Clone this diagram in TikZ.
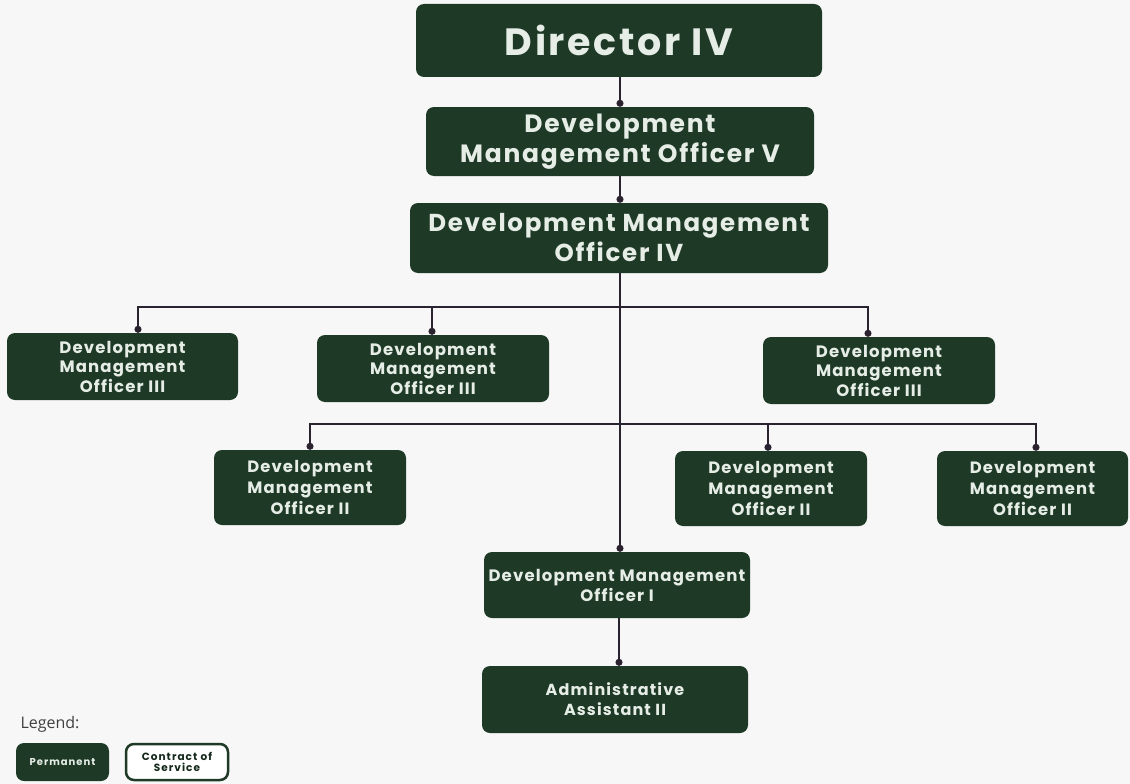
\documentclass[tikz,border=0pt]{standalone}
\usepackage{fontspec}
\setmainfont{Poppins}
\newfontfamily\legendfont{Open Sans}
\usetikzlibrary{arrows.meta}
\definecolor{dkgreen}{HTML}{1E3A26}
\definecolor{txt}{HTML}{E6EDE6}
\definecolor{conn}{HTML}{2B2230}
\definecolor{bg}{HTML}{F7F7F7}
\newcommand{\fsz}[2]{\bfseries\fontsize{#1}{#2}\selectfont\addfontfeature{LetterSpace=7}}
\newcommand{\fszw}[2]{\bfseries\fontsize{#1}{#2}\selectfont\addfontfeature{LetterSpace=10}}
\tikzset{
  box/.style={fill=dkgreen, rounded corners=8pt, text=txt, align=center, inner sep=0pt, anchor=center},
  link/.style={draw=conn, line width=1.3pt},
  dotlink/.style={link, -{Circle[length=7pt,width=7pt]}},
}
\begin{document}
\begin{tikzpicture}[x=1pt,y=-1pt]
\fill[bg] (0,0) rectangle (1130,784);
\useasboundingbox (0,0) rectangle (1130,784);
% top chain
\node[box, minimum width=406pt, minimum height=73pt, font=\fsz{38}{42}] (d4) at (619,40.5) {Director IV};
\node[box, minimum width=388pt, minimum height=69pt, font=\fsz{25}{29.5}] (d5) at (620,141.5) {Development\\Management Officer V};
\node[box, minimum width=418pt, minimum height=70pt, font=\fsz{24.5}{30}] (dm4) at (619,238) {Development Management\\Officer IV};
% level III
\node[box, minimum width=231pt, minimum height=67pt, font=\fsz{16.5}{19.5}] (c31) at (122.5,366.5) {Development\\Management\\Officer III};
\node[box, minimum width=232pt, minimum height=67pt, font=\fsz{16.5}{19.5}] (c32) at (433,368.5) {Development\\Management\\Officer III};
\node[box, minimum width=232pt, minimum height=67pt, font=\fsz{16.5}{19.5}] (c33) at (879,370.5) {Development\\Management\\Officer III};
% level II
\node[box, minimum width=192pt, minimum height=75pt, font=\fsz{16.4}{21}] (c21) at (310,487.5) {Development\\Management\\Officer II};
\node[box, minimum width=192pt, minimum height=75pt, font=\fsz{16.4}{21}] (c22) at (771,488.5) {Development\\Management\\Officer II};
\node[box, minimum width=191pt, minimum height=75pt, font=\fsz{16.4}{21}] (c23) at (1032.5,488.5) {Development\\Management\\Officer II};
% level I
\node[box, minimum width=266pt, minimum height=66pt, font=\fsz{16.5}{20}] (c1) at (617,585) {Development Management\\Officer I};
\node[box, minimum width=266pt, minimum height=67pt, font=\fsz{16}{20}] (aa) at (615,699.5) {Administrative\\Assistant II};
% connectors
\draw[dotlink] (d4.south -| 620,0) -- (d5.north -| 620,0);
\draw[dotlink] (d5.south -| 620,0) -- (dm4.north -| 620,0);
\coordinate (h3) at (620,307);
\coordinate (h2) at (620,424);
\draw[dotlink] (dm4.south -| 620,0) -- (c1.north -| 620,0);
\draw[dotlink] (h3) -| ([xshift=15.5pt]c31.north);
\draw[dotlink] (h3) -| ([xshift=-1pt]c32.north);
\draw[dotlink] (h3) -| ([xshift=-11pt]c33.north);
\draw[dotlink] (h2) -| (c21.north);
\draw[dotlink] (h2) -| ([xshift=-3pt]c22.north);
\draw[dotlink] (h2) -| ([xshift=3.5pt]c23.north);
\draw[dotlink] (c1.south -| 619,0) -- (aa.north -| 619,0);
% legend
\node[anchor=west, font=\legendfont\fontsize{16}{18}\selectfont, text=black!75] (lg) at (17,724) {Legend:};
\node[box, minimum width=93pt, minimum height=38pt, font=\fszw{10}{11}] (perm) at (62.5,762) {Permanent};
\node[box, fill=white, draw=dkgreen, line width=2.5pt, text=dkgreen!70!black, minimum width=102pt, minimum height=36pt, font=\fszw{10.5}{11.5}] (cos) at (177,762) {Contract of\\Service};
\end{tikzpicture}
\end{document}
